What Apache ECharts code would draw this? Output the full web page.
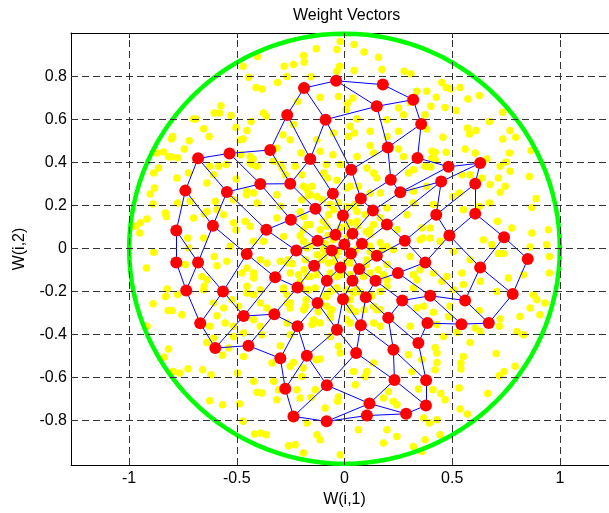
<!DOCTYPE html>
<html>
<head>
<meta charset="utf-8">
<script src="https://cdn.jsdelivr.net/npm/echarts@6/dist/echarts.min.js"></script>
<style>
  html, body { margin: 0; padding: 0; background: #ffffff; }
  #chart { width: 609px; height: 513px; }
</style>
</head>
<body>
<div id="chart"></div>
<script>
// Axis ranges and tick labels
const xMin = -1.27, xMax = 1.27;
const yMin = -1.006, yMax = 1.003;
const xTicks = [-1, -0.5, 0, 0.5, 1];
const yTicks = [-0.8, -0.6, -0.4, -0.2, 0, 0.2, 0.4, 0.6, 0.8];

// Input domain: unit circle
const circleRadius = 1;
const circleSegments = 120;

// SOM weight vectors on a 10 x 10 grid (row a, column b): W(i,1)
const nodeX = [
  [0.178, 0.319, 0.356, 0.339, 0.483, 0.630, 0.607, 0.607, 0.741, 0.851],
  [-0.039, 0.150, 0.201, 0.215, 0.259, 0.449, 0.426, 0.487, 0.630, 0.781],
  [-0.188, -0.088, 0.031, 0.076, 0.132, 0.197, 0.280, 0.375, 0.560, 0.670],
  [-0.266, -0.159, -0.054, -0.007, 0.037, 0.081, 0.150, 0.248, 0.398, 0.543],
  [-0.345, -0.252, -0.135, -0.042, -0.001, 0.030, 0.068, 0.144, 0.268, 0.385],
  [-0.534, -0.391, -0.249, -0.125, -0.059, -0.019, 0.037, 0.099, 0.203, 0.343],
  [-0.680, -0.546, -0.363, -0.224, -0.141, -0.082, -0.007, 0.076, 0.227, 0.379],
  [-0.739, -0.611, -0.454, -0.322, -0.218, -0.125, -0.035, 0.054, 0.232, 0.378],
  [-0.781, -0.680, -0.564, -0.468, -0.326, -0.218, -0.175, -0.082, 0.116, 0.286],
  [-0.781, -0.735, -0.670, -0.600, -0.446, -0.298, -0.275, -0.237, -0.083, 0.104]
];
// W(i,2)
const nodeY = [
  [0.763, 0.693, 0.580, 0.422, 0.381, 0.398, 0.302, 0.163, 0.053, -0.048],
  [0.781, 0.662, 0.471, 0.321, 0.262, 0.312, 0.158, 0.061, -0.087, -0.211],
  [0.747, 0.600, 0.367, 0.233, 0.177, 0.112, 0.037, -0.064, -0.241, -0.346],
  [0.622, 0.417, 0.256, 0.154, 0.070, 0.023, -0.033, -0.113, -0.219, -0.351],
  [0.459, 0.302, 0.186, 0.065, 0.019, -0.023, -0.094, -0.149, -0.241, -0.346],
  [0.443, 0.301, 0.135, 0.037, -0.008, -0.087, -0.149, -0.226, -0.321, -0.439],
  [0.420, 0.264, 0.088, -0.009, -0.079, -0.149, -0.235, -0.356, -0.470, -0.612],
  [0.270, 0.107, -0.025, -0.133, -0.180, -0.253, -0.377, -0.485, -0.611, -0.729],
  [0.084, -0.064, -0.199, -0.313, -0.305, -0.361, -0.498, -0.635, -0.720, -0.768],
  [-0.064, -0.194, -0.347, -0.462, -0.451, -0.510, -0.651, -0.780, -0.803, -0.776]
];

// Training input vectors
const inputPoints = [
  [-0.471,0.848],[-0.445,0.797],[-0.411,0.750],[-0.404,0.894],[-0.574,0.665],[-0.605,0.631],[-0.580,0.631],[-0.527,0.619],
  [-0.701,0.603],[-0.690,0.603],[-0.434,0.592],[-0.654,0.558],[-0.504,0.564],[-0.453,0.550],[-0.629,0.522],[-0.798,0.522],
  [-0.804,0.510],[-0.471,0.510],[-0.721,0.502],[-0.744,0.464],[-0.871,0.445],[-0.840,0.450],[-0.817,0.427],[-0.804,0.427],
  [-0.775,0.423],[-0.481,0.437],[-0.550,0.391],[-0.585,0.383],[-0.425,0.417],[-0.863,0.375],[-0.724,0.352],[-0.886,0.352],
  [-0.020,0.964],[0.045,0.949],[-0.131,0.930],[-0.035,0.926],[0.091,0.915],[0.158,0.890],[-0.190,0.898],[-0.187,0.867],
  [-0.237,0.856],[-0.280,0.848],[-0.023,0.848],[-0.035,0.825],[0.045,0.829],[0.174,0.833],[0.277,0.825],[0.308,0.814],
  [-0.156,0.799],[-0.267,0.801],[-0.311,0.773],[-0.383,0.743],[0.336,0.732],[0.382,0.732],[-0.113,0.704],[-0.028,0.708],
  [0.039,0.701],[0.014,0.678],[-0.218,0.685],[0.305,0.680],[0.008,0.647],[0.251,0.654],[0.274,0.623],[0.374,0.623],
  [-0.376,0.631],[-0.363,0.615],[0.058,0.603],[0.197,0.600],[-0.237,0.577],[-0.286,0.530],[0.026,0.569],[0.019,0.522],
  [0.119,0.546],[0.046,0.538],[-0.128,0.507],[-0.051,0.538],[0.197,0.522],[0.251,0.546],[0.119,0.480],[0.251,0.464],
  [-0.484,0.507],[-0.314,0.468],[-0.252,0.507],[-0.438,0.429],[-0.202,0.445],[-0.054,0.437],[0.058,0.429],[0.135,0.445],
  [0.274,0.429],[0.406,0.453],[-0.113,0.453],[-0.406,0.383],[-0.298,0.391],[-0.085,0.391],[0.104,0.375],[0.320,0.367],
  [0.421,0.414],
  [0.452,0.773],[0.472,0.750],[0.494,0.743],[0.537,0.750],[0.426,0.704],[0.573,0.696],[0.626,0.712],[0.401,0.662],
  [0.467,0.657],[0.518,0.643],[0.735,0.634],[0.673,0.592],[0.382,0.557],[0.571,0.561],[0.611,0.549],[0.580,0.533],
  [0.769,0.549],[0.795,0.518],[0.735,0.510],[0.457,0.518],[0.560,0.464],[0.866,0.456],[0.766,0.445],[0.472,0.448],
  [0.421,0.448],[0.406,0.422],[0.607,0.445],[0.723,0.383],[0.750,0.403],[0.661,0.417],[0.769,0.360],[0.374,0.383],
  [-0.882,0.282],[-0.902,0.254],[-0.778,0.329],[-0.639,0.306],[-0.626,0.383],[-0.608,0.344],[-0.427,0.391],[-0.503,0.324],
  [-0.515,0.228],[-0.456,0.251],[-0.422,0.259],[-0.406,0.213],[-0.917,0.138],[-0.948,0.120],[-0.971,0.104],[-0.951,0.073],
  [-0.889,0.208],[-0.832,0.166],[-0.827,0.150],[-0.775,0.213],[-0.716,0.220],[-0.600,0.220],[-0.639,0.173],[-0.651,0.161],
  [-0.592,0.181],[-0.561,0.158],[-0.701,0.143],[-0.515,0.120],[-0.504,0.088],[-0.729,0.050],[-0.654,0.050],[-0.724,0.003],
  [-0.605,-0.036],[-0.592,-0.079],[-0.546,-0.059],[-0.530,0.011],[-0.886,-0.017],[-0.920,-0.090],[-0.824,-0.187],[-0.831,-0.222],
  [-0.775,-0.213],[-0.889,-0.256],[-0.819,-0.287],[-0.800,-0.288],[-0.755,-0.307],[-0.654,-0.191],[-0.651,-0.175],[-0.639,-0.144],
  [-0.662,-0.129],[-0.739,-0.074],[-0.608,-0.253],[-0.561,-0.276],[-0.523,-0.237],[-0.492,-0.268],[-0.592,-0.312],[-0.515,-0.361],
  [-0.917,-0.361],[-0.476,-0.113],[-0.453,-0.175],[-0.422,-0.214],[-0.422,-0.113],[-0.626,-0.361],[-0.554,-0.346],
  [-0.817,-0.467],[-0.837,-0.504],[-0.796,-0.571],[-0.766,-0.578],[-0.727,-0.558],[-0.659,-0.563],[-0.620,-0.586],[-0.639,-0.436],
  [-0.608,-0.415],[-0.566,-0.496],[-0.538,-0.462],[-0.515,-0.408],[-0.469,-0.392],[-0.497,-0.578],[-0.626,-0.707],[-0.566,-0.726],
  [-0.487,-0.721],[-0.471,-0.803],[-0.418,-0.862],[-0.422,-0.617],[-0.406,-0.668],
  [-0.469,-0.501],[-0.383,-0.400],[-0.298,-0.451],[-0.252,-0.400],[-0.151,-0.353],[-0.113,-0.346],[-0.066,-0.408],[-0.028,-0.454],
  [-0.020,-0.485],[-0.113,-0.513],[-0.131,-0.516],[-0.237,-0.529],[-0.252,-0.547],[-0.337,-0.532],[-0.383,-0.671],[-0.329,-0.617],
  [-0.306,-0.656],[-0.314,-0.702],[-0.221,-0.656],[-0.206,-0.694],[-0.198,-0.594],[-0.193,-0.555],[-0.155,-0.692],[-0.136,-0.656],
  [-0.090,-0.741],[-0.028,-0.690],[-0.032,-0.710],[0.042,-0.571],[0.104,-0.571],[0.096,-0.594],[0.135,-0.532],[0.050,-0.633],
  [0.181,-0.694],[0.204,-0.664],[0.227,-0.710],[0.243,-0.726],[0.343,-0.653],[0.313,-0.571],[0.359,-0.516],[0.421,-0.563],
  [0.429,-0.485],[0.297,-0.493],[-0.388,-0.857],[-0.363,-0.865],[-0.260,-0.916],[-0.229,-0.912],[-0.174,-0.811],[-0.113,-0.888],
  [-0.128,-0.865],[-0.020,-0.958],[0.065,-0.842],[0.197,-0.842],[0.243,-0.873],[0.181,-0.904],[0.320,-0.920],[0.359,-0.943],
  [0.429,-0.795],[-0.190,-0.950],
  [0.459,-0.408],[0.522,-0.389],[0.583,-0.436],[0.630,-0.385],[0.719,-0.361],[0.800,-0.385],[0.831,-0.400],[0.704,-0.488],
  [0.552,-0.501],[0.540,-0.532],[0.540,-0.560],[0.429,-0.529],[0.421,-0.459],[0.792,-0.547],[0.741,-0.571],[0.719,-0.591],
  [0.532,-0.648],[0.467,-0.702],[0.447,-0.674],[0.410,-0.656],[0.537,-0.746],[0.571,-0.769],[0.665,-0.674],[0.394,-0.811],
  [0.444,-0.865],[0.374,-0.888],[0.367,-0.787],
  [0.401,0.380],[0.545,0.344],[0.583,0.344],[0.638,0.329],[0.676,0.298],[0.723,0.262],[0.715,0.329],[0.746,0.290],
  [0.858,0.336],[0.890,0.233],[0.870,0.192],[0.673,0.213],[0.626,0.197],[0.534,0.259],[0.503,0.243],[0.552,0.181],
  [0.710,0.127],[0.777,0.096],[0.870,0.073],[0.947,0.088],[0.939,0.019],[0.951,-0.036],[0.862,0.008],[0.645,0.042],
  [0.684,0.019],[0.715,-0.023],[0.738,-0.023],[0.398,0.096],[0.364,0.050],[0.444,0.034],[0.506,-0.013],[0.583,-0.051],
  [0.545,-0.113],[0.475,-0.129],[0.452,-0.152],[0.552,-0.167],[0.630,-0.152],[0.707,-0.199],[0.761,-0.136],[0.831,-0.121],
  [0.951,-0.113],[0.877,-0.214],[0.893,-0.237],[0.931,-0.253],[0.862,-0.276],[0.908,-0.307],[0.815,-0.315],[0.723,-0.327],
  [0.626,-0.287],[0.490,-0.268],[0.483,-0.315],[0.413,-0.296],[0.351,-0.098],[0.506,-0.191],[0.607,-0.369],
  [-0.438,0.399],[-0.329,0.406],[-0.290,0.375],[-0.275,0.344],[-0.229,0.383],[-0.198,0.344],[-0.097,0.352],[-0.079,0.329],
  [-0.020,0.391],[-0.035,0.318],[0.135,0.352],[0.150,0.329],[0.297,0.352],[-0.453,0.267],[-0.314,0.251],[-0.174,0.274],
  [-0.151,0.290],[-0.128,0.243],[0.011,0.282],[0.065,0.290],[0.166,0.259],[0.320,0.267],[0.382,0.290],[-0.298,0.197],
  [-0.198,0.228],[-0.066,0.205],[-0.051,0.181],[-0.074,0.158],[0.058,0.173],[0.197,0.189],[0.320,0.213],[0.290,0.158],
  [0.413,0.205],[-0.461,0.127],[-0.438,0.104],[-0.314,0.143],[-0.174,0.112],[-0.190,0.088],[-0.097,0.127],[-0.082,0.104],
  [0.026,0.120],[0.135,0.112],[0.243,0.088],[0.359,0.096],[-0.422,0.034],[-0.376,0.034],[-0.283,0.057],[-0.190,0.034],
  [-0.174,0.003],[-0.097,-0.005],[-0.128,-0.028],[-0.051,0.042],[0.011,0.050],[0.119,0.065],[0.166,0.027],[0.227,-0.005],
  [0.351,0.042],[0.398,0.050],[-0.453,-0.090],[-0.391,-0.051],[-0.360,-0.067],[-0.298,-0.059],[-0.260,-0.051],[-0.182,-0.051],
  [-0.105,-0.051],[-0.074,-0.067],[-0.043,-0.036],[0.026,-0.067],[0.104,-0.051],[0.197,-0.074],[0.305,-0.036],[0.413,-0.113],
  [-0.422,-0.136],[-0.252,-0.113],[-0.213,-0.121],[-0.159,-0.129],[-0.128,-0.121],[-0.066,-0.113],[-0.020,-0.121],[0.026,-0.121],
  [0.119,-0.113],[0.181,-0.121],[0.320,-0.121],[0.336,-0.144],[-0.453,-0.206],[-0.391,-0.191],[-0.283,-0.183],[-0.267,-0.214],
  [-0.167,-0.191],[-0.136,-0.183],[-0.066,-0.199],[-0.035,-0.183],[0.042,-0.199],[0.166,-0.199],[0.197,-0.175],[0.320,-0.183],
  [-0.391,-0.253],[-0.360,-0.276],[-0.267,-0.253],[-0.252,-0.276],[-0.182,-0.268],[-0.082,-0.268],[-0.058,-0.284],[0.026,-0.276],
  [0.050,-0.292],[0.135,-0.268],[0.166,-0.284],[0.336,-0.276],[0.367,-0.268],[-0.422,-0.330],[-0.391,-0.361],[-0.267,-0.346],
  [-0.144,-0.330],[0.011,-0.330],[0.135,-0.346],[0.166,-0.361],[0.305,-0.361],[0.429,-0.353],
  [-0.168,0.247],[-0.103,0.228],[-0.029,0.214],[0.008,0.195],[0.050,0.205],[0.096,0.158],[0.166,0.144],[-0.206,0.172],
  [-0.159,0.112],[-0.113,0.088],[-0.076,0.060],[-0.020,0.098],[0.063,0.107],[0.101,0.079],[-0.206,0.060],[-0.159,0.014],
  [-0.090,0.023],[-0.029,-0.014],[0.054,-0.005],[0.119,-0.014],[0.175,-0.005],[-0.243,-0.070],[-0.187,-0.098],[-0.048,-0.060],
  [0.008,-0.060],[0.101,-0.074],[0.156,-0.098],[-0.206,-0.153],[-0.094,-0.219],[0.008,-0.191],[0.073,-0.200],[0.129,-0.219],
  [-0.178,-0.237],[-0.066,-0.321],[0.026,-0.237],[0.091,-0.284],[-0.122,-0.293],
  [-0.190,0.290],[-0.159,0.251],[0.026,0.290],[0.119,0.259],[0.042,0.197],[-0.190,0.150],[0.058,0.127],[0.119,0.088],
  [0.011,0.104],[-0.090,0.011],[0.119,0.011],[0.197,0.011],[-0.267,-0.067],[-0.097,-0.036],[0.026,-0.059],[-0.174,-0.129],
  [-0.035,-0.129],[0.088,-0.129],[0.197,-0.144],[-0.283,-0.191],[-0.174,-0.191],[-0.051,-0.191],[0.058,-0.191],[-0.252,-0.253],
  [-0.082,-0.222],[0.042,-0.206],[-0.190,-0.284],[-0.066,-0.299],[0.026,-0.284],[0.150,-0.284],[-0.144,-0.346],[0.026,-0.346]
];

const FONT = 'Arial, "Liberation Sans", Helvetica, sans-serif';

// Neurons and their grid-neighbour links
const rows = nodeX.length, cols = nodeX[0].length;
const neurons = [];
const links = [];
for (let a = 0; a < rows; a++) {
  for (let b = 0; b < cols; b++) {
    const p = [nodeX[a][b], nodeY[a][b]];
    neurons.push(p);
    if (b + 1 < cols) links.push({ coords: [p, [nodeX[a][b + 1], nodeY[a][b + 1]]] });
    if (a + 1 < rows) links.push({ coords: [p, [nodeX[a + 1][b], nodeY[a + 1][b]]] });
  }
}

// Boundary of the input domain
const circle = [];
for (let i = 0; i <= circleSegments; i++) {
  const t = 2 * Math.PI * i / circleSegments;
  circle.push([circleRadius * Math.cos(t), circleRadius * Math.sin(t)]);
}

const tickText = { fontFamily: FONT, fontSize: 16, color: '#000' };
const axisLine = { show: true, onZero: false, lineStyle: { color: '#000', width: 1 } };

const option = {
  animation: false,
  backgroundColor: '#ffffff',
  title: {
    text: 'Weight Vectors',
    left: 288, top: 3,
    textStyle: { fontFamily: FONT, fontSize: 16, fontWeight: 'normal', color: '#000' }
  },
  grid: { left: 71, top: 33, width: 547, height: 432, containLabel: false, outerBoundsMode: 'none' },
  xAxis: [
    {
      type: 'value', min: xMin, max: xMax, position: 'bottom',
      name: 'W(i,1)', nameLocation: 'middle', nameGap: 25,
      nameTextStyle: { fontFamily: FONT, fontSize: 16, color: '#000' },
      axisLine: axisLine,
      axisTick: { show: true, inside: true, length: 5, customValues: xTicks, lineStyle: { color: '#000' } },
      axisLabel: Object.assign({ show: true, margin: 6, customValues: xTicks }, tickText),
      splitLine: { show: false }
    },
    {
      type: 'value', min: xMin, max: xMax, position: 'top',
      axisLine: axisLine,
      axisTick: { show: true, inside: true, length: 5, customValues: xTicks, lineStyle: { color: '#000' } },
      axisLabel: { show: false },
      splitLine: { show: false }
    }
  ],
  yAxis: [
    {
      type: 'value', min: yMin, max: yMax, position: 'left',
      name: 'W(i,2)', nameLocation: 'middle', nameGap: 43, nameRotate: 90,
      nameTextStyle: { fontFamily: FONT, fontSize: 16, color: '#000' },
      axisLine: axisLine,
      axisTick: { show: true, inside: true, length: 5, customValues: yTicks, lineStyle: { color: '#000' } },
      axisLabel: Object.assign({ show: true, margin: 4, customValues: yTicks }, tickText),
      splitLine: { show: false }
    }
  ],
  series: [
    {
      // dashed grid
      type: 'line', data: [], silent: true, z: 1,
      markLine: {
        silent: true, symbol: ['none', 'none'], label: { show: false }, animation: false,
        lineStyle: { color: '#333', width: 1, type: [7, 4] },
        emphasis: { disabled: true },
        data: xTicks.map(v => ({ xAxis: v })).concat(yTicks.map(v => ({ yAxis: v })))
      }
    },
    {
      type: 'scatter', data: inputPoints, symbol: 'circle', symbolSize: 7.5, silent: true, z: 2,
      itemStyle: { color: '#FFFF00', opacity: 1 }
    },
    {
      type: 'line', data: circle, showSymbol: false, symbol: 'none', silent: true, z: 3,
      lineStyle: { color: '#00FF00', width: 4.5 }
    },
    {
      type: 'lines', coordinateSystem: 'cartesian2d', data: links, silent: true, z: 4,
      lineStyle: { color: '#0000FF', width: 1, opacity: 1, curveness: 0 }
    },
    {
      type: 'scatter', data: neurons, symbol: 'circle', symbolSize: 12, silent: true, z: 5,
      itemStyle: { color: '#FF0000', opacity: 1 }
    }
  ]
};

const chart = echarts.init(document.getElementById('chart'), null, { renderer: 'canvas' });
chart.setOption(option);
</script>
</body>
</html>
